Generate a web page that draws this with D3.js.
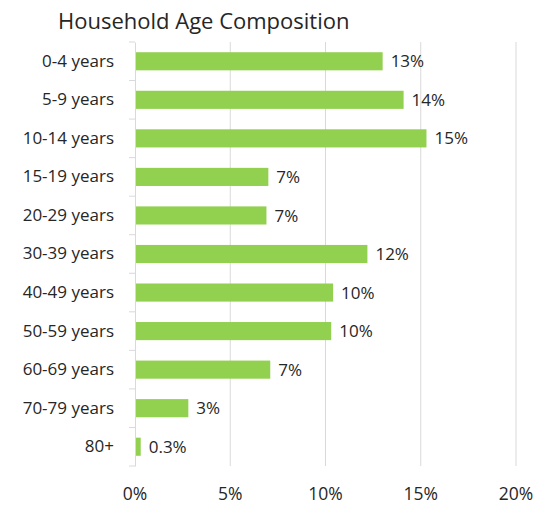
<!DOCTYPE html>
<meta charset="utf-8">
<script src="https://d3js.org/d3.v7.min.js"></script>
<style>
  body { margin: 0; background: #fff; }
  text { font-family: "Open Sans", "Liberation Sans", sans-serif; fill: #262626; }
</style>
<body>
<div id="chart"></div>
<script>
  // data
  var categories = ["0-4 years", "5-9 years", "10-14 years", "15-19 years", "20-29 years",
                    "30-39 years", "40-49 years", "50-59 years", "60-69 years", "70-79 years", "80+"];
  var shares = [13.0, 14.1, 15.3, 7.0, 6.9, 12.2, 10.4, 10.3, 7.1, 2.8, 0.3];
  var shareLabels = ["13%", "14%", "15%", "7%", "7%", "12%", "10%", "10%", "7%", "3%", "0.3%"];
  var xTicks = [0, 5, 10, 15, 20];

  var width = 535, height = 506;
  var margin = {top: 42, right: 19, bottom: 40, left: 135};

  var svg = d3.select("#chart").append("svg")
      .attr("width", width)
      .attr("height", height);

  svg.append("text")
      .attr("x", 58)
      .attr("y", 29)
      .style("font-size", "22px")
      .text("Household Age Composition");

  var x = d3.scaleLinear().domain([0, 20]).range([margin.left, width - margin.right]);
  var y = d3.scaleBand().domain(categories).range([margin.top, height - margin.bottom]).paddingInner(0.53).paddingOuter(0.265);
  var yOuter = d3.scaleBand().domain(categories).range([margin.top, height - margin.bottom]);

  // vertical gridlines
  svg.append("g")
    .selectAll("line")
    .data(xTicks.slice(1))
    .join("line")
      .attr("x1", d => x(d)).attr("x2", d => x(d))
      .attr("y1", margin.top).attr("y2", height - margin.bottom)
      .attr("stroke", "#d9d9d9")
      .attr("stroke-width", 1);

  // x tick labels
  svg.append("g")
    .selectAll("text")
    .data(xTicks)
    .join("text")
      .attr("x", d => x(d))
      .attr("y", 500)
      .attr("text-anchor", "middle")
      .style("font-size", "17.5px")
      .text(d => d + "%");

  // bars
  svg.append("g")
    .selectAll("rect")
    .data(shares)
    .join("rect")
      .attr("x", x(0))
      .attr("y", (d, i) => y(categories[i]))
      .attr("width", d => x(d) - x(0))
      .attr("height", y.bandwidth())
      .attr("fill", "#92d050");

  // value labels
  svg.append("g")
    .selectAll("text")
    .data(shares)
    .join("text")
      .attr("x", d => x(d) + 8)
      .attr("y", (d, i) => y(categories[i]) + y.bandwidth() / 2)
      .attr("dy", "0.36em")
      .style("font-size", "17px")
      .text((d, i) => shareLabels[i]);

  // category axis
  var yAxis = svg.append("g")
      .attr("transform", "translate(" + x(0) + ",0)")
      .call(d3.axisLeft(yOuter).tickSize(0).tickPadding(21));
  yAxis.select(".domain").attr("stroke", "#d9d9d9");
  yAxis.selectAll("text").style("font-size", "17px").attr("fill", "#262626");

  // tick marks at band boundaries
  svg.append("g")
    .selectAll("line")
    .data(categories.map(c => yOuter(c)).concat([height - margin.bottom]))
    .join("line")
      .attr("x1", x(0) - 6).attr("x2", x(0))
      .attr("y1", d => d).attr("y2", d => d)
      .attr("stroke", "#d9d9d9");
</script>
</body>
